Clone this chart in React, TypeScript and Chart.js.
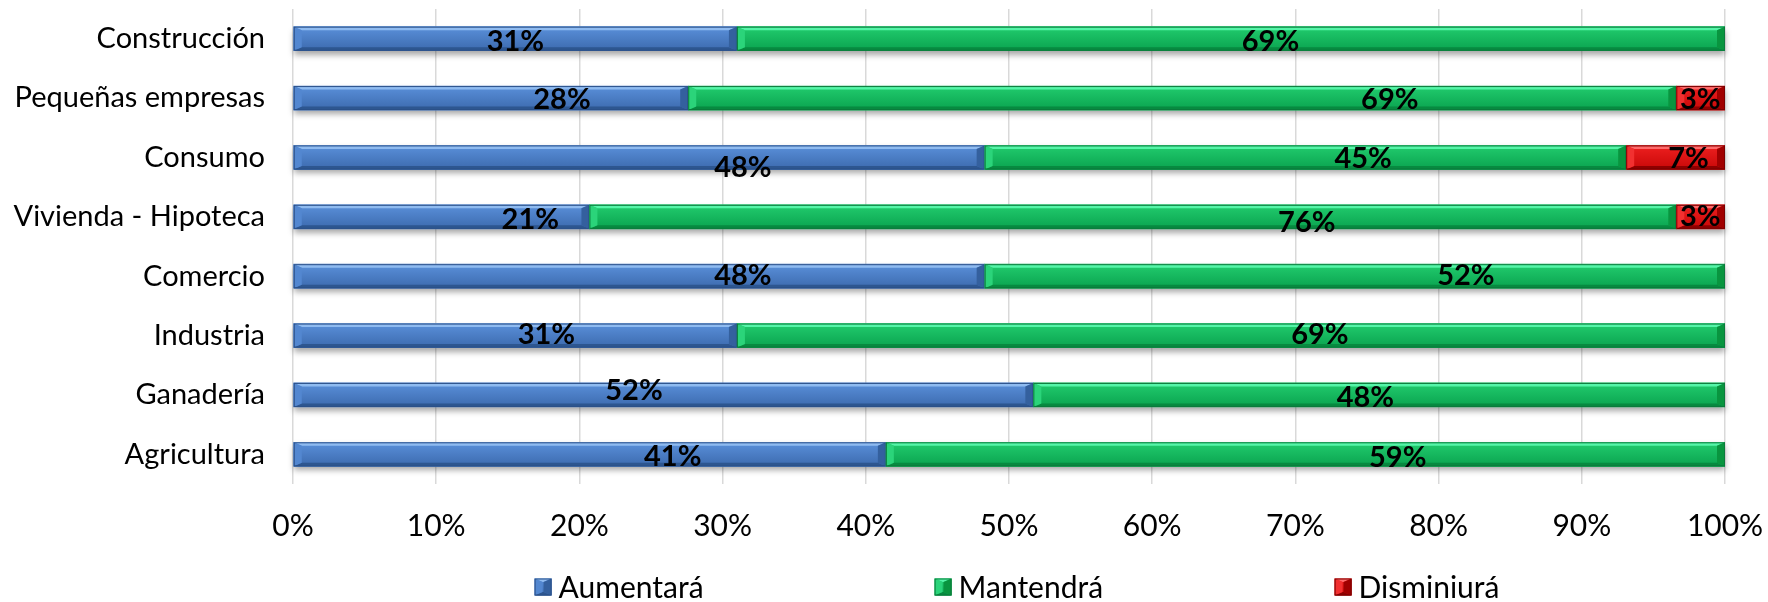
import React, { useEffect, useRef } from "react";
import { Chart, registerables } from "chart.js";

Chart.register(...registerables);

// ---------- data ----------
const categories = [
  "Construcción",
  "Pequeñas empresas",
  "Consumo",
  "Vivienda - Hipoteca",
  "Comercio",
  "Industria",
  "Ganadería",
  "Agricultura",
];
const aumentara = [31.0, 27.6, 48.3, 20.7, 48.3, 31.0, 51.7, 41.4];
const mantendra = [69.0, 69.0, 44.8, 75.9, 51.7, 69.0, 48.3, 58.6];
const disminuira = [0, 3.4, 6.9, 3.4, 0, 0, 0, 0];
const seriesNames = ["Aumentará", "Mantendrá", "Disminiurá"];
const xTickStep = 10;

// ---------- label placement (fraction along segment, vertical nudge) ----------
const labelAnchors = [
  [0.5, 0.68, 0.65, 0.8, 0.65, 0.57, 0.46, 0.64],
  [0.54, 0.71, 0.59, 0.66, 0.65, 0.59, 0.48, 0.61],
  [0.5, 0.49, 0.63, 0.49, 0.5, 0.5, 0.5, 0.5],
];
const labelNudges = [
  [2, 0.5, 9, 2, -1.5, -2, -5.5, 1],
  [2, 0.5, 0, 5, -1.5, -2, 1.5, 2.5],
  [0, 0.5, 0, -1, 0, 0, 0, 0],
];

// ---------- styles ----------
type Pal = {
  base: string;
  faceTop: string;
  faceBot: string;
  light: string;
  dark: string;
  left: string;
  right: string;
  border: string;
};
const palettes: Pal[] = [
  {
    base: "#4A7DC6",
    faceTop: "#5A90DA",
    faceBot: "#3C6AAE",
    light: "#8FBBF0",
    dark: "#2D5690",
    left: "#5387D0",
    right: "#34609E",
    border: "#2B5088",
  },
  {
    base: "#12B55C",
    faceTop: "#22CC6E",
    faceBot: "#0AA34F",
    light: "#55F5A8",
    dark: "#078A40",
    left: "#2BD47A",
    right: "#09953F",
    border: "#0B7A3B",
  },
  {
    base: "#D80E0E",
    faceTop: "#EE2020",
    faceBot: "#C80808",
    light: "#FF6A6A",
    dark: "#8E0000",
    left: "#F23030",
    right: "#A00000",
    border: "#7A0000",
  },
];

const FONT = "Lato, 'Gill Sans', 'DejaVu Sans', sans-serif";

function poly(ctx: CanvasRenderingContext2D, pts: number[][], fill: string) {
  ctx.beginPath();
  ctx.moveTo(pts[0][0], pts[0][1]);
  for (let i = 1; i < pts.length; i++) ctx.lineTo(pts[i][0], pts[i][1]);
  ctx.closePath();
  ctx.fillStyle = fill;
  ctx.fill();
}

function drawBevel(ctx: CanvasRenderingContext2D, left: number, right: number, top: number, bot: number, pal: Pal) {
  const w = right - left;
  const h = bot - top;
  if (w <= 0) return;
  const bv = Math.min(3.5, h / 2);
  const bh = Math.min(8, w / 2);
  const g = ctx.createLinearGradient(0, top, 0, bot);
  g.addColorStop(0, pal.faceTop);
  g.addColorStop(1, pal.faceBot);
  ctx.fillStyle = g;
  ctx.fillRect(left, top, w, h);
  poly(ctx, [[left, top], [right, top], [right - bh, top + bv], [left + bh, top + bv]], pal.light);
  poly(ctx, [[left, bot], [right, bot], [right - bh, bot - bv], [left + bh, bot - bv]], pal.dark);
  poly(ctx, [[left, top], [left + bh, top + bv], [left + bh, bot - bv], [left, bot]], pal.left);
  poly(ctx, [[right, top], [right - bh, top + bv], [right - bh, bot - bv], [right, bot]], pal.right);
  ctx.strokeStyle = pal.border;
  ctx.lineWidth = 1;
  ctx.strokeRect(left + 0.5, top + 0.5, w - 1, h - 1);
}

const barStylePlugin = {
  id: "barStyle",
  beforeDatasetsDraw(chart: any) {
    const ctx: CanvasRenderingContext2D = chart.ctx;
    const n = chart.data.labels.length;
    ctx.save();
    ctx.shadowColor = "rgba(0,0,0,0.35)";
    ctx.shadowBlur = 6;
    ctx.shadowOffsetY = 4;
    ctx.fillStyle = "#888";
    for (let j = 0; j < n; j++) {
      let l = Infinity;
      let r = -Infinity;
      let yc = 0;
      let h = 0;
      chart.data.datasets.forEach((_: any, i: number) => {
        const el = chart.getDatasetMeta(i).data[j];
        if (!el) return;
        l = Math.min(l, el.base, el.x);
        r = Math.max(r, el.base, el.x);
        yc = el.y;
        h = el.height;
      });
      if (r > l) ctx.fillRect(l, yc - h / 2, r - l, h);
    }
    ctx.restore();
  },
  afterDatasetsDraw(chart: any) {
    const ctx: CanvasRenderingContext2D = chart.ctx;
    ctx.save();
    chart.data.datasets.forEach((ds: any, i: number) => {
      const meta = chart.getDatasetMeta(i);
      meta.data.forEach((el: any, j: number) => {
        const v = ds.data[j];
        if (!v) return;
        const left = Math.min(el.base, el.x);
        const right = Math.max(el.base, el.x);
        drawBevel(ctx, left, right, el.y - el.height / 2, el.y + el.height / 2, palettes[i]);
      });
    });
    ctx.fillStyle = "#000";
    ctx.font = `bold 29px ${FONT}`;
    ctx.textAlign = "center";
    ctx.textBaseline = "middle";
    chart.data.datasets.forEach((ds: any, i: number) => {
      const meta = chart.getDatasetMeta(i);
      meta.data.forEach((el: any, j: number) => {
        const v = ds.data[j];
        if (!v) return;
        const x = el.base + (el.x - el.base) * labelAnchors[i][j];
        const y = el.y + labelNudges[i][j] + 1;
        ctx.fillText(`${Math.round(v)}%`, x, y);
      });
    });
    ctx.restore();
  },
};

const legendPlugin = {
  id: "customLegend",
  afterDraw(chart: any) {
    const ctx: CanvasRenderingContext2D = chart.ctx;
    const area = chart.chartArea;
    ctx.save();
    ctx.font = `30px ${FONT}`;
    const box = 17;
    const gapText = 7;
    const items = chart.data.datasets.map((ds: any) => {
      const tw = ctx.measureText(ds.label).width;
      return { label: ds.label, w: box + gapText + tw };
    });
    const step = 400;
    const total = step * (items.length - 1) + items[items.length - 1].w;
    let x = (area.left + area.right) / 2 - total / 2 + 8;
    const yc = 587;
    items.forEach((it: any, i: number) => {
      drawBevel(ctx, x, x + box, yc - box / 2, yc + box / 2, palettes[i]);
      ctx.fillStyle = "#000";
      ctx.textAlign = "left";
      ctx.textBaseline = "middle";
      ctx.fillText(it.label, x + box + gapText, yc + 1);
      x += step;
    });
    ctx.restore();
  },
};

function zeroPad(s: any) {
  s.paddingTop = 0;
  s.paddingBottom = 0;
  s.paddingLeft = 0;
  s.paddingRight = 0;
}

export default function App() {
  const ref = useRef<HTMLCanvasElement>(null);
  useEffect(() => {
    if (!ref.current) return;
    Chart.defaults.font.family = FONT;
    const chart = new Chart(ref.current, {
      type: "bar",
      data: {
        labels: categories,
        datasets: [
          { label: seriesNames[0], data: aumentara, backgroundColor: palettes[0].base, barThickness: 24 },
          { label: seriesNames[1], data: mantendra, backgroundColor: palettes[1].base, barThickness: 24 },
          { label: seriesNames[2], data: disminuira, backgroundColor: palettes[2].base, barThickness: 24 },
        ],
      },
      options: {
        indexAxis: "y",
        responsive: false,
        animation: false,
        devicePixelRatio: 1,
        layout: { padding: { left: 0, right: 43, top: 9, bottom: 0 } },
        plugins: { legend: { display: false }, tooltip: { enabled: false } },
        scales: {
          x: {
            stacked: true,
            min: 0,
            max: 100,
            ticks: {
              stepSize: xTickStep,
              callback: (v: any) => `${v}%`,
              color: "#000",
              font: { family: FONT, size: 30 },
              padding: 24,
              maxRotation: 0,
            },
            grid: { color: "#D9D9D9", lineWidth: 1.5, drawTicks: false },
            border: { display: false },
            afterFit: (s: any) => {
              s.height = 118;
              zeroPad(s);
            },
          },
          y: {
            stacked: true,
            ticks: { color: "#000", font: { family: FONT, size: 29 }, padding: 20 },
            grid: { display: false },
            border: { display: false },
            afterFit: (s: any) => {
              s.width = 293;
              zeroPad(s);
            },
          },
        },
      },
      plugins: [barStylePlugin, legendPlugin],
    } as any);
    return () => chart.destroy();
  }, []);
  return (
    <div style={{ position: "fixed", left: 0, top: 0, width: 1768, height: 602, background: "#fff" }}>
      <canvas ref={ref} width={1768} height={602} style={{ width: 1768, height: 602, display: "block" }} />
    </div>
  );
}
